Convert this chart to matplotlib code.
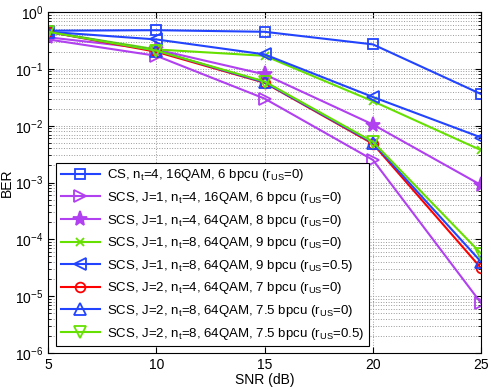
import matplotlib
matplotlib.use("Agg")
import matplotlib.pyplot as plt
import numpy as np

plt.rcParams['font.family'] = ['Liberation Sans', 'DejaVu Sans']
plt.rcParams['mathtext.fontset'] = 'custom'
plt.rcParams['mathtext.rm'] = 'Liberation Sans'
plt.rcParams['mathtext.it'] = 'Liberation Sans'

snr = [5, 10, 15, 20, 25]

cs_nt4_16qam = [0.47, 0.48, 0.45, 0.27, 0.036]
scs_j1_nt4_16qam = [0.33, 0.17, 0.030, 0.0025, 7.5e-6]
scs_j1_nt4_64qam = [0.36, 0.22, 0.080, 0.0105, 0.0009]
scs_j1_nt8_64qam_r0 = [0.45, 0.22, 0.17, 0.027, 0.0037]
scs_j1_nt8_64qam_r05 = [0.45, 0.33, 0.18, 0.032, 0.0062]
scs_j2_nt4_64qam = [0.45, 0.20, 0.057, 0.0048, 3.1e-5]
scs_j2_nt8_64qam_r0 = [0.45, 0.21, 0.058, 0.0050, 4.0e-5]
scs_j2_nt8_64qam_r05 = [0.45, 0.21, 0.060, 0.0052, 5.6e-5]

labels = [
    r'CS, n$_t$=4, 16QAM, 6 bpcu (r$_{US}$=0)',
    r'SCS, J=1, n$_t$=4, 16QAM, 6 bpcu (r$_{US}$=0)',
    r'SCS, J=1, n$_t$=4, 64QAM, 8 bpcu (r$_{US}$=0)',
    r'SCS, J=1, n$_t$=8, 64QAM, 9 bpcu (r$_{US}$=0)',
    r'SCS, J=1, n$_t$=8, 64QAM, 9 bpcu (r$_{US}$=0.5)',
    r'SCS, J=2, n$_t$=4, 64QAM, 7 bpcu (r$_{US}$=0)',
    r'SCS, J=2, n$_t$=8, 64QAM, 7.5 bpcu (r$_{US}$=0)',
    r'SCS, J=2, n$_t$=8, 64QAM, 7.5 bpcu (r$_{US}$=0.5)',
]

blue = '#2244ff'
mag = '#b040f0'
green = '#66e000'
red = '#ff0000'

series = [cs_nt4_16qam, scs_j1_nt4_16qam, scs_j1_nt4_64qam, scs_j1_nt8_64qam_r0,
          scs_j1_nt8_64qam_r05, scs_j2_nt4_64qam, scs_j2_nt8_64qam_r0, scs_j2_nt8_64qam_r05]
styles = [
    dict(color=blue, marker='s', mfc='none', ms=7),
    dict(color=mag, marker='>', mfc='none', ms=8),
    dict(color=mag, marker='*', mfc=mag, ms=11),
    dict(color=green, marker='x', mfc='none', ms=6),
    dict(color=blue, marker='<', mfc='none', ms=8),
    dict(color=red, marker='o', mfc='none', ms=7),
    dict(color=blue, marker='^', mfc='none', ms=8),
    dict(color=green, marker='v', mfc='none', ms=8),
]

fig = plt.figure(figsize=(4.91, 3.90), dpi=100)
ax = fig.add_axes([0.098, 0.095, 0.882, 0.874])

for y, lab, st in zip(series, labels, styles):
    ax.semilogy(snr, y, label=lab, lw=1.5, mew=1.3, **st)

ax.set_xlim(5, 25)
ax.set_ylim(1e-6, 1)
ax.set_xticks([5, 10, 15, 20, 25])
ax.set_yticks([10.0**k for k in range(-6, 1)])
ax.grid(True, which='major', axis='x', ls=':', color='#999999', lw=0.7)
ax.grid(True, which='both', axis='y', ls=':', color='#999999', lw=0.7)
ax.tick_params(which='both', direction='in', top=True, right=True, labelsize=10)
ax.tick_params(which='major', length=4)
ax.tick_params(which='minor', length=2)
ax.set_xlabel('SNR (dB)', fontsize=10, labelpad=1)
ax.set_ylabel('BER', fontsize=10)
ax.yaxis.set_label_coords(-0.078, 0.5)
for s in ax.spines.values():
    s.set_linewidth(0.8)

leg = ax.legend(loc='lower left', bbox_to_anchor=(0.012, 0.012), fontsize=9.5,
                handlelength=3.0, frameon=True, fancybox=False, edgecolor='black',
                framealpha=1, borderpad=0.35, labelspacing=0.5, handletextpad=0.5,
                borderaxespad=0.2)
leg.get_frame().set_linewidth(0.8)

fig.savefig('out.png', dpi=100)
